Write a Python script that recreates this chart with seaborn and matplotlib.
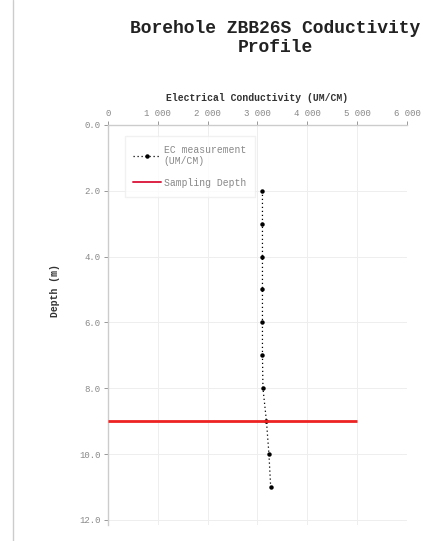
import matplotlib
matplotlib.use("Agg")
import matplotlib.pyplot as plt
import seaborn as sns
import pandas as pd
from matplotlib.ticker import FuncFormatter
from matplotlib.lines import Line2D

# Conductivity profile measured down the borehole
depth_m = [2.0, 3.0, 4.0, 5.0, 6.0, 7.0, 8.0, 9.0, 10.0, 11.0]
ec_um_cm = [3100, 3100, 3100, 3100, 3100, 3100, 3110, 3180, 3230, 3265]

# Depth at which the groundwater sample was taken
sampling_depth = 9.0
sampling_extent = [0, 5000]

x_ticks = [0, 1000, 2000, 3000, 4000, 5000, 6000]
y_ticks = [0.0, 2.0, 4.0, 6.0, 8.0, 10.0, 12.0]

df = pd.DataFrame({"Depth": depth_m, "EC": ec_um_cm})

sns.set_theme(style="whitegrid")
mono = ["Liberation Mono", "DejaVu Sans Mono"]
plt.rcParams["font.family"] = mono

fig = plt.figure(figsize=(4.42, 5.41), dpi=100)
ax = fig.add_axes([0.244, 0.030, 0.677, 0.739])

sns.lineplot(data=df, x="EC", y="Depth", sort=False, estimator=None,
             ax=ax, color="black", linestyle=(0, (1, 2.2)), linewidth=0.9,
             marker="o", markersize=3.2, markeredgewidth=0)

ax.hlines(sampling_depth, sampling_extent[0], sampling_extent[1],
          color="#ee2222", linewidth=2.0, zorder=4)

ax.set_xlim(0, 6000)
ax.set_ylim(12.15, 0)
ax.set_xticks(x_ticks)
ax.set_yticks(y_ticks)
ax.xaxis.set_major_formatter(
    FuncFormatter(lambda v, p: "0" if v == 0 else f"{v:,.0f}".replace(",", " ")))
ax.yaxis.set_major_formatter(FuncFormatter(lambda v, p: f"{v:.1f}"))

ax.xaxis.set_ticks_position("top")
ax.xaxis.set_label_position("top")
ax.tick_params(axis="both", labelsize=6.5, colors="#888888", length=3,
               width=0.6, pad=2)
ax.tick_params(axis="x", top=True, bottom=False)
ax.tick_params(axis="y", left=True)

ax.grid(True, color="#eeeeee", linewidth=0.7)
for side in ["right", "bottom"]:
    ax.spines[side].set_visible(False)
for side in ["left", "top"]:
    ax.spines[side].set_color("#cccccc")
    ax.spines[side].set_linewidth(1.0)

ax.set_xlabel("Electrical Conductivity (UM/CM)", fontsize=7, fontweight="bold",
              color="#333333", labelpad=6)
ax.set_ylabel("Depth (m)", fontsize=7, fontweight="bold", color="#333333",
              va="center")
ax.yaxis.set_label_coords(-0.177, 0.587)

handles = [
    Line2D([], [], color="black", linestyle=(0, (1, 2.2)), linewidth=0.9,
           marker="o", markersize=3.2, markeredgewidth=0),
    Line2D([], [], color="#dd2244", linewidth=1.4),
]
leg = ax.legend(handles, ["EC measurement\n(UM/CM)", "Sampling Depth"],
                loc="upper left", bbox_to_anchor=(0.04, 0.985), fontsize=7,
                frameon=True, fancybox=False, edgecolor="#eeeeee",
                handlelength=2.8, labelspacing=1.2, borderpad=0.9,
                handletextpad=0.3)
for t in leg.get_texts():
    t.set_color("#888888")

fig.text(0.622, 0.930, "Borehole ZBB26S Coductivity\nProfile", ha="center",
         va="center", fontsize=13, fontweight="bold", color="#222222",
         linespacing=1.2)

# thin frame line at the left margin
fig.add_artist(Line2D([0.03, 0.03], [0.0, 1.0], color="#cccccc",
                      linewidth=1.0, transform=fig.transFigure))

fig.savefig("out.png", dpi=100, facecolor="white")
